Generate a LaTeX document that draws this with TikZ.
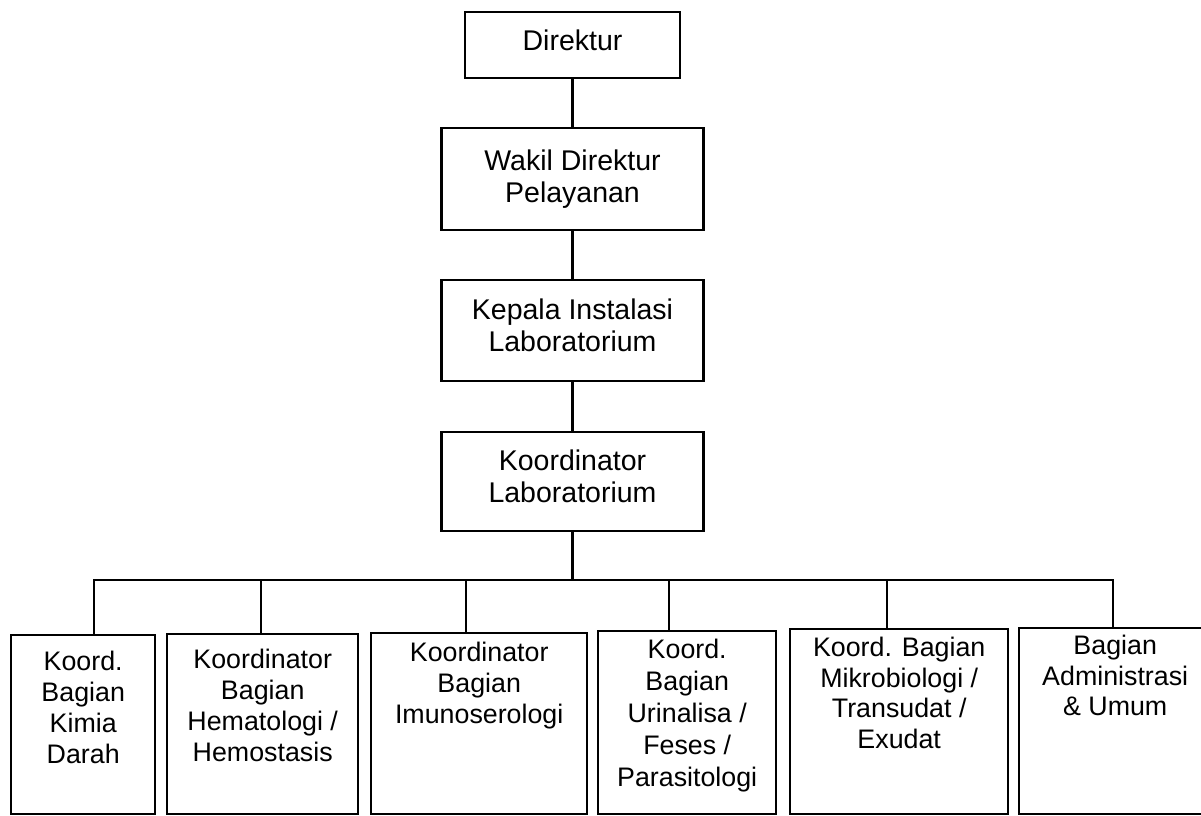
\documentclass[tikz,border=0pt]{standalone}
\usepackage{fontspec}
\setmainfont{Liberation Sans}
\begin{document}
\begin{tikzpicture}[x=1pt,y=-1pt,
  box/.style={draw=black, line width=2.4pt, rectangle, inner sep=0pt},
  topbox/.style={box, font=\fontsize{28.5}{32}\selectfont, align=center},
  botbox/.style={box, anchor=north west},
  bottext/.style={font=\fontsize{26.8}{31}\selectfont, align=center, anchor=north, inner sep=0pt},
  conn/.style={line width=2.6pt, line join=miter}]
\useasboundingbox (0,0) rectangle (1201,815);
\clip (0,0) rectangle (1201,815);
\fill[white] (0,0) rectangle (1201,815);

% top chain
\node[topbox, minimum width=215pt, minimum height=66pt, text depth=9pt]   (dir) at (572.5,45)    {Direktur};
\node[topbox, minimum width=262pt, minimum height=102pt]                  (wak) at (572.5,179)   {Wakil Direktur\\Pelayanan};
\node[topbox, minimum width=262pt, minimum height=101pt, text depth=11pt] (kep) at (572.5,330.5) {Kepala Instalasi\\Laboratorium};
\node[topbox, minimum width=262pt, minimum height=99pt, text depth=10pt]  (koo) at (572.5,481.5) {Koordinator\\Laboratorium};

% bottom boxes
\node[botbox, minimum width=144pt, minimum height=179pt] (b1) at (10,634)   {};
\node[botbox, minimum width=191pt, minimum height=180pt] (b2) at (166,633)  {};
\node[botbox, minimum width=216pt, minimum height=181pt] (b3) at (370,632)  {};
\node[botbox, minimum width=178pt, minimum height=183pt] (b4) at (597,630)  {};
\node[botbox, minimum width=218pt, minimum height=185pt] (b5) at (789,628)  {};
\node[botbox, minimum width=192pt, minimum height=186pt] (b6) at (1018,627) {};

\node[bottext] (t1) at ([yshift=-17pt]b1.north) {Koord.\\Bagian\\Kimia\\Darah};
\node[bottext] (t2) at ([yshift=-16pt]b2.north) {Koordinator\\Bagian\\Hematologi /\\Hemostasis};
\node[bottext] (t3) at ([yshift=-10pt]b3.north) {Koordinator\\Bagian\\Imunoserologi};
\node[bottext, font=\fontsize{26.8}{32}\selectfont] (t4) at ([yshift=-9pt]b4.north) {Koord.\\Bagian\\Urinalisa /\\Feses /\\Parasitologi};
\node[bottext, font=\fontsize{26.8}{30.5}\selectfont] (t5) at ([yshift=-9pt]b5.north) {Koord. Bagian\\Mikrobiologi /\\Transudat /\\Exudat};
\node[bottext, font=\fontsize{26.8}{30.5}\selectfont] (t6) at ([yshift=-8pt]b6.north) {Bagian\\Administrasi\\\& Umum};

% connectors
\draw[conn] (dir) -- (wak);
\draw[conn] (wak) -- (kep);
\draw[conn] (kep) -- (koo);

\coordinate (busL) at (94,580);
\coordinate (busR) at (1113,580);
\coordinate (d2) at (261,580);
\coordinate (d3) at (466,580);
\coordinate (d4) at (669,580);
\coordinate (d5) at (887,580);

\draw[conn] (koo.south) -- (koo.south |- busL);
\draw[conn] (busL |- b1.north) -- (busL) -- (busR) -- (busR |- b6.north);
\draw[conn] (d2) -- (d2 |- b2.north);
\draw[conn] (d3) -- (d3 |- b3.north);
\draw[conn] (d4) -- (d4 |- b4.north);
\draw[conn] (d5) -- (d5 |- b5.north);
\end{tikzpicture}
\end{document}
